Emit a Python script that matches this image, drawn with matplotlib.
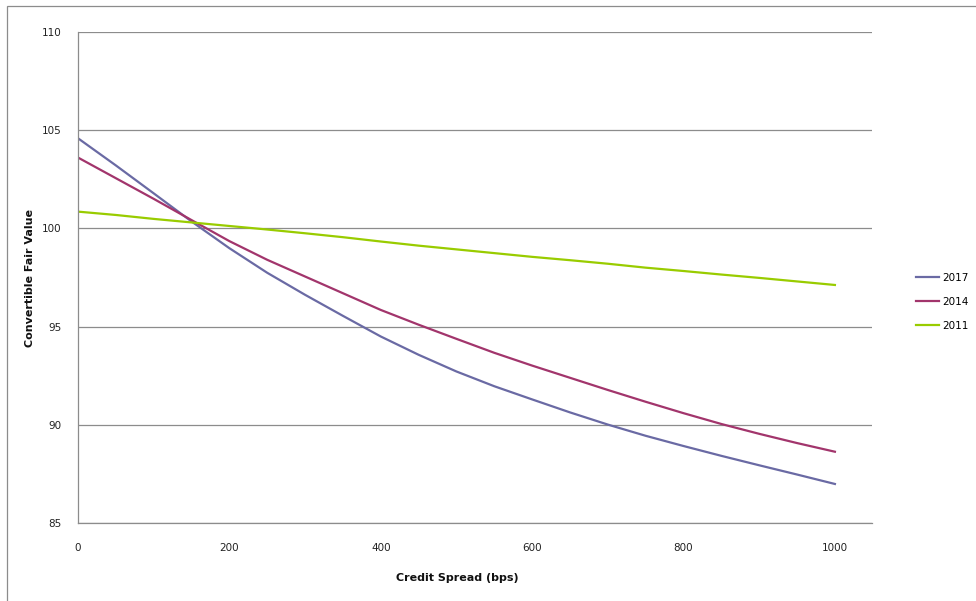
import matplotlib
matplotlib.use("Agg")
import matplotlib.pyplot as plt
from matplotlib.patches import Rectangle

spread = [0, 50, 100, 150, 200, 250, 300, 350, 400, 450, 500,
          550, 600, 650, 700, 750, 800, 850, 900, 950, 1000]
v2017 = [104.58, 103.2, 101.78, 100.35, 98.99, 97.74, 96.62, 95.55, 94.5, 93.57, 92.72,
         91.97, 91.3, 90.64, 90.02, 89.45, 88.93, 88.43, 87.95, 87.48, 87.0]
v2014 = [103.6, 102.55, 101.5, 100.42, 99.35, 98.4, 97.55, 96.7, 95.85, 95.1, 94.38,
         93.67, 93.02, 92.4, 91.78, 91.18, 90.6, 90.05, 89.55, 89.08, 88.64]
v2011 = [100.85, 100.68, 100.48, 100.3, 100.12, 99.94, 99.75, 99.55, 99.33, 99.12, 98.93,
         98.74, 98.55, 98.38, 98.2, 98.0, 97.83, 97.65, 97.48, 97.3, 97.12]
series_names = ["2017", "2014", "2011"]
colors = ["#6A6AA4", "#A2356C", "#99CC00"]
xticks = [0, 200, 400, 600, 800, 1000]
yticks = [85, 90, 95, 100, 105, 110]

W, H = 976, 601
fig = plt.figure(figsize=(W / 100, H / 100), dpi=100)
fig.patch.set_facecolor("white")
fig.patches.append(Rectangle((7 / W, -0.1), 1.2, (H - 6) / H + 0.1,
                             transform=fig.transFigure, fill=False,
                             edgecolor="#8C8C8C", linewidth=0.9))

ax = fig.add_axes([78 / W, (H - 523.3) / H, (872 - 78) / W, (523.3 - 31.7) / H])
for vals, name, c in zip([v2017, v2014, v2011], series_names, colors):
    ax.plot(spread, vals, color=c, linewidth=1.6, label=name)

ax.set_xlim(0, 1049)
ax.set_ylim(85, 110)
ax.set_xticks(xticks)
ax.set_yticks(yticks)
ax.yaxis.grid(True, color="#8C8C8C", linewidth=0.9)
ax.set_axisbelow(True)
for s in ["right", "top"]:
    ax.spines[s].set_visible(False)
for s in ["left", "bottom"]:
    ax.spines[s].set_color("#8C8C8C")
    ax.spines[s].set_linewidth(0.9)
ax.tick_params(axis="both", length=0, labelsize=7.5, colors="#222222")
ax.tick_params(axis="y", pad=12)
ax.tick_params(axis="x", pad=14)

fig.text(457 / W, 1 - 578 / H, "Credit Spread (bps)", ha="center", va="center",
         fontsize=8, fontweight="bold", color="#111111")
fig.text(30 / W, 1 - 278 / H, "Convertible Fair Value", ha="center", va="center",
         rotation=90, fontsize=8, fontweight="bold", color="#111111")

leg = ax.legend(loc="center left", frameon=False, fontsize=7.5, handlelength=2.2,
                handletextpad=0.3, labelspacing=1.35, borderaxespad=0)
leg.set_bbox_to_anchor((912 / W, 1 - 302 / H), transform=fig.transFigure)

fig.savefig("out.png", dpi=100, facecolor="white")
